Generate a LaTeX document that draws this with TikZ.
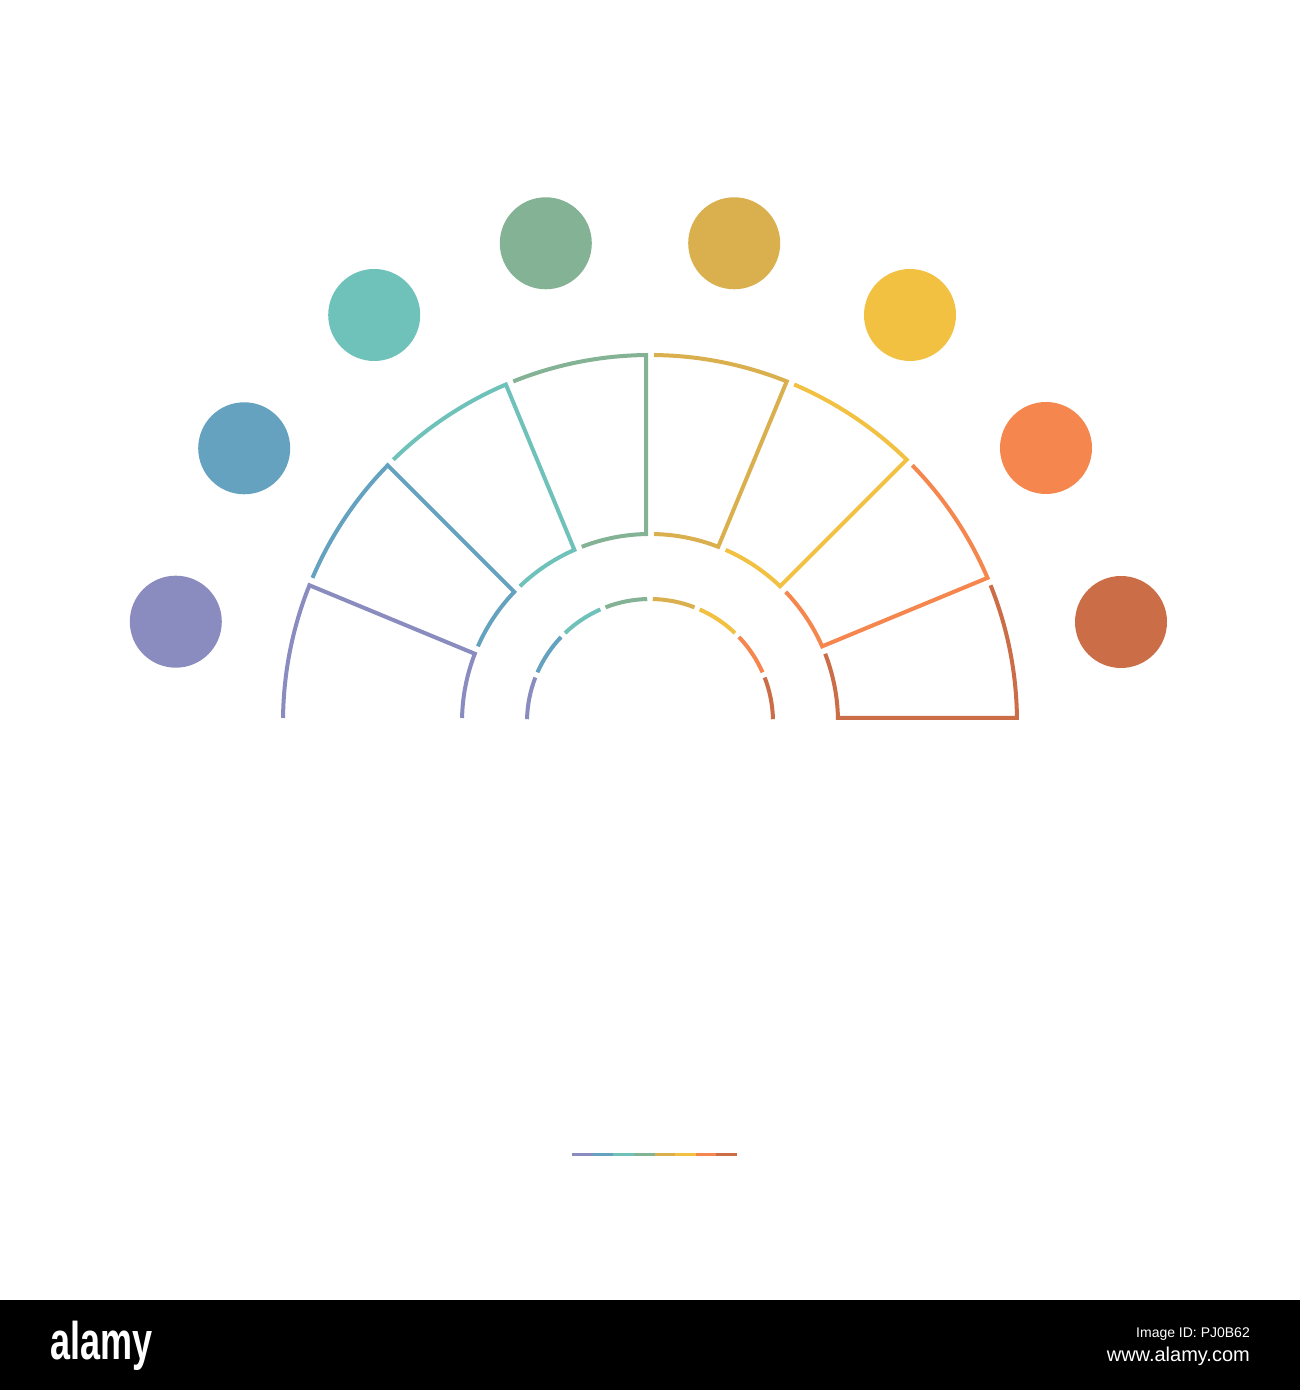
\documentclass[tikz,border=0pt]{standalone}
\usepackage{fontspec}
\setmainfont{Liberation Sans}
\usetikzlibrary{calc}
\definecolor{cA}{HTML}{8A8CBF}
\definecolor{cB}{HTML}{64A2BF}
\definecolor{cC}{HTML}{6FC2BA}
\definecolor{cD}{HTML}{83B294}
\definecolor{cE}{HTML}{DAB04F}
\definecolor{cF}{HTML}{F2C142}
\definecolor{cG}{HTML}{F5864D}
\definecolor{cH}{HTML}{CB6E47}
\begin{document}
\begin{tikzpicture}[x=1pt,y=1pt,
  seg/.style={line width=4pt, line join=miter},
  ring/.style={line width=4pt},
  dot/.style={circle, minimum size=92pt, inner sep=0pt, draw=none},
  bar/.style={line width=3pt}]
\useasboundingbox (0,0) rectangle (1300,1390);
\fill[white] (0,0) rectangle (1300,1390);
\coordinate (C) at (650,668);
% segments and inner ring
\foreach \k/\col in {0/cA,1/cB,2/cC,3/cD,4/cE,5/cF,6/cG,7/cH}{
  \pgfmathsetmacro\aO{180-22.5*\k}
  \pgfmathsetmacro\aI{\aO-22.5}
  \pgfmathsetmacro\oS{\aO-0.6245}
  \pgfmathsetmacro\oE{\aI+0.6245}
  \pgfmathsetmacro\iS{\aI+1.219}
  \pgfmathsetmacro\iE{\aO-1.219}
  \pgfmathsetmacro\rS{\aO-1.3}
  \pgfmathsetmacro\rE{\aI+1.3}
  \draw[seg, draw=\col] ($(C)+(\oS:367pt)$) arc[start angle=\oS, end angle=\oE, radius=367pt]
     -- ($(C)+(\iS:188pt)$) arc[start angle=\iS, end angle=\iE, radius=188pt];
  \draw[ring, draw=\col] ($(C)+(\rS:123pt)$) arc[start angle=\rS, end angle=\rE, radius=123pt];
}
% circles
\node[dot, fill=cA] (d1) at (175.8,768.3) {};
\node[dot, fill=cB] (d2) at (244.2,941.7) {};
\node[dot, fill=cC] (d3) at (374.2,1075) {};
\node[dot, fill=cD] (d4) at (545.8,1146.7) {};
\node[dot, fill=cE] (d5) at (734.2,1146.7) {};
\node[dot, fill=cF] (d6) at (910,1075) {};
\node[dot, fill=cG] (d7) at (1046,942) {};
\node[dot, fill=cH] (d8) at (1121,768) {};
% small multicolour line
\foreach \k/\col in {0/cA,1/cB,2/cC,3/cD,4/cE,5/cF,6/cG,7/cH}{
  \pgfmathsetmacro\xa{572+20.625*\k}
  \pgfmathsetmacro\xb{\xa+20.625}
  \draw[bar, draw=\col] (\xa,235) -- (\xb,235);
}
% watermark bar
\fill[black] (0,0) rectangle (1300,90);
\node[anchor=base west, inner sep=0pt, text=white, font=\fontsize{53}{53}\selectfont\bfseries] (logo) at (50,30) {\scalebox{0.68}[1]{alamy}};
\node[anchor=base east, inner sep=0pt, text=white, font=\fontsize{14}{14}\selectfont] (imgid) at (1250,52) {Image ID: PJ0B62};
\node[anchor=base east, inner sep=0pt, text=white, font=\fontsize{20}{20}\selectfont] (www) at (1250,28) {www.alamy.com};
\end{tikzpicture}
\end{document}
